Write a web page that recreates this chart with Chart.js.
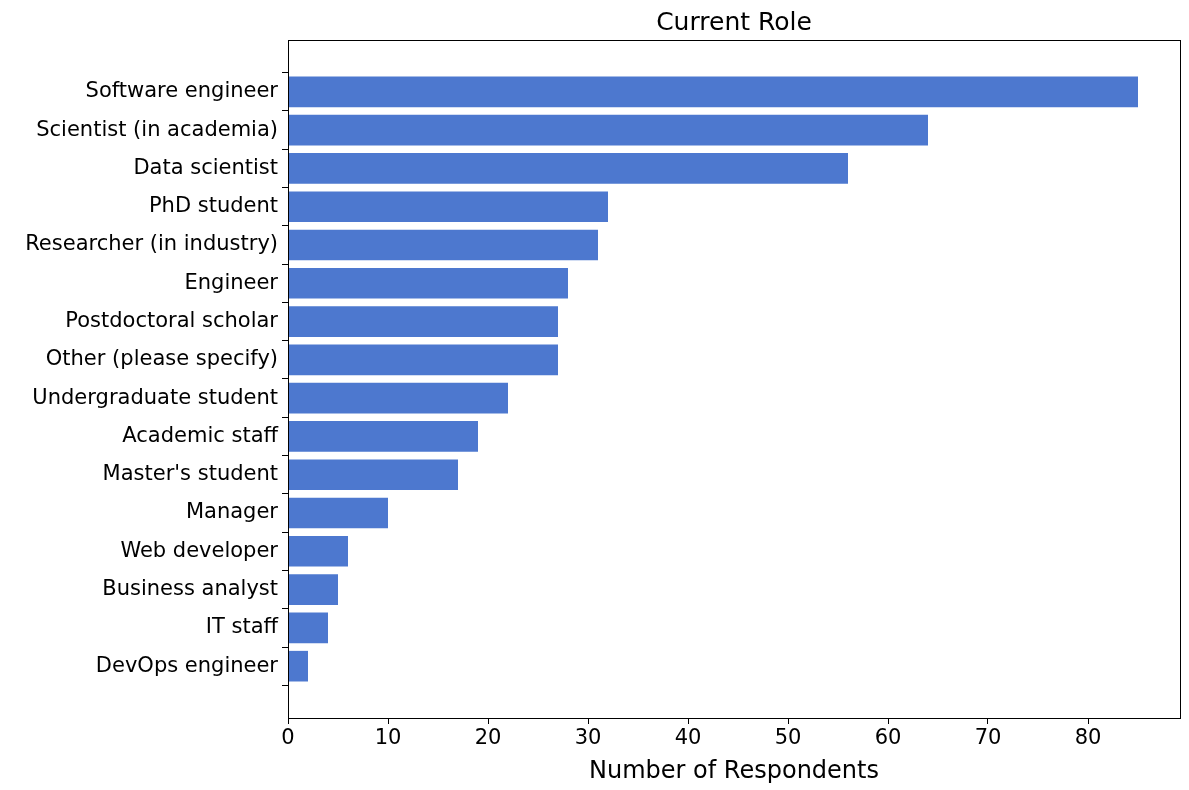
<!DOCTYPE html>
<html>
<head>
<meta charset="utf-8">
<script src="https://cdn.jsdelivr.net/npm/chart.js@4"></script>
<style>
  html, body { margin: 0; padding: 0; background: #fff; }
  #wrap { width: 1189px; height: 790px; }
</style>
</head>
<body>
<div id="wrap"><canvas id="chart"></canvas></div>
<script>
// Chart data
const roles = [
    'Software engineer', 'Scientist (in academia)', 'Data scientist', 'PhD student',
    'Researcher (in industry)', 'Engineer', 'Postdoctoral scholar', 'Other (please specify)',
    'Undergraduate student', 'Academic staff', "Master's student", 'Manager',
    'Web developer', 'Business analyst', 'IT staff', 'DevOps engineer'
];
const respondents = [85, 64, 56, 32, 31, 28, 27, 27, 22, 19, 17, 10, 6, 5, 4, 2];
const xTicks = [0, 10, 20, 30, 40, 50, 60, 70, 80];

const font = 'DejaVu Sans';

// Frame around the plot plus the title
const framePlugin = {
    id: 'frame',
    afterDraw(chart) {
        const { ctx, chartArea: a } = chart;
        ctx.save();
        ctx.strokeStyle = '#000';
        ctx.lineWidth = 1;
        ctx.strokeRect(a.left + 0.5, a.top + 0.5, a.right - a.left, a.bottom - a.top);
        ctx.fillStyle = '#000';
        ctx.font = `25px "${font}"`;
        ctx.textAlign = 'center';
        ctx.textBaseline = 'bottom';
        ctx.fillText('Current Role', (a.left + a.right) / 2, a.top - 4);
        ctx.restore();
    }
};

new Chart(document.getElementById('chart').getContext('2d'), {
    type: 'bar',
    data: {
        datasets: [{
            data: respondents.map((v, i) => ({ x: v, y: i })),
            backgroundColor: '#4d78cf',
            barPercentage: 0.8,
            categoryPercentage: 1
        }]
    },
    options: {
        indexAxis: 'y',
        responsive: true,
        maintainAspectRatio: false,
        animation: false,
        layout: { padding: { top: 40, right: 9, left: 0, bottom: 0 } },
        plugins: { legend: { display: false }, tooltip: { enabled: false } },
        scales: {
            y: {
                type: 'linear',
                min: -0.8,
                max: 15.8,
                reverse: true,
                afterBuildTicks: s => { s.ticks = roles.map((r, i) => ({ value: i })); },
                afterFit: s => { s.width = 288; },
                ticks: {
                    callback: v => roles[v],
                    color: '#000',
                    font: { family: font, size: 21 },
                    padding: 4
                },
                grid: { display: true, drawOnChartArea: false, drawTicks: true, tickLength: 6, color: '#000' },
                border: { display: false }
            },
            x: {
                type: 'linear',
                min: 0,
                max: 89.2,
                afterBuildTicks: s => { s.ticks = xTicks.map(v => ({ value: v })); },
                afterFit: s => { s.height = 72; },
                ticks: {
                    color: '#000',
                    font: { family: font, size: 21 },
                    padding: 2
                },
                title: {
                    display: true,
                    text: 'Number of Respondents',
                    color: '#000',
                    font: { family: font, size: 24 },
                    padding: { top: 0 }
                },
                grid: { display: true, drawOnChartArea: false, drawTicks: true, tickLength: 6, color: '#000' },
                border: { display: false }
            }
        }
    },
    plugins: [framePlugin]
});
</script>
</body>
</html>
